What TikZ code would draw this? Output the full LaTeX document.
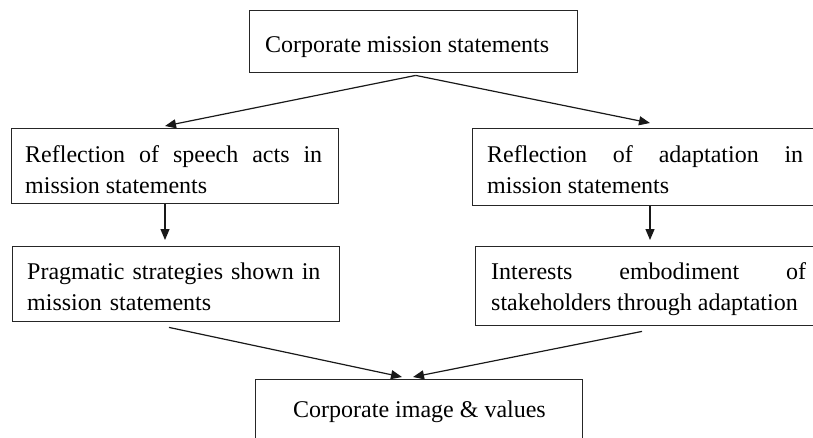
\documentclass[tikz,border=0pt]{standalone}
\usepackage{fontspec}
\setmainfont{Liberation Serif}
\usetikzlibrary{arrows.meta,calc}

\tikzset{
  box/.style={draw=black!85, line width=1.4pt, rectangle, inner sep=0pt, anchor=north west},
  txt/.style={inner sep=0pt, anchor=base west, font=\fontsize{24}{31}\selectfont},
  just/.style={txt, text width=#1, align=justify,
    execute at begin node={\hyphenpenalty=10000\exhyphenpenalty=10000\tolerance=10000}},
  ragged/.style={txt, text width=#1, align=left},
  flow/.style={draw=black!90, line width=1.2pt, -{Triangle[length=11pt,width=9pt]}}
}

\begin{document}
\begin{tikzpicture}[x=1pt,y=-1pt]
  \useasboundingbox (0,0) rectangle (813,437);
  \clip (0,0) rectangle (813,437);

  % boxes (the right-hand ones and the bottom one run past the page edge)
  \node[box, minimum width=328pt, minimum height=62pt] (top) at (249,10) {};
  \node[box, minimum width=327pt, minimum height=75pt] (lb1) at (11,128) {};
  \node[box, minimum width=327pt, minimum height=75pt] (lb2) at (12,246) {};
  \node[box, minimum width=400pt, minimum height=77pt] (rb1) at (472,128) {};
  \node[box, minimum width=400pt, minimum height=79pt] (rb2) at (475,246) {};
  \node[box, minimum width=327pt, minimum height=80pt] (bot) at (255,379) {};

  % texts
  \node[txt] (ttop) at (265,52) {Corporate mission statements};
  \node[just=297pt] (tlb1) at (25,162) {Reflection of speech acts in mission statements};
  \node[ragged=305pt] (tlb2) at (27,279) {Pragmatic strategies shown in mission statements};
  \node[just=316pt] (trb1) at (487,162) {Reflection of adaptation in mission statements};
  \node[just=315pt] (trb2) at (491,279) {Interests embodiment of stakeholders through adaptation};
  \node[txt] (tbot) at (293,417) {Corporate image \& values};

  % connectors
  \coordinate (split) at ($(top.south)+(2,2)$);
  \draw[flow] (split) -- ($(lb1.north west)+(154,-2)$);
  \draw[flow] (split) -- ($(rb1.north west)+(178,-5)$);
  \draw[flow] ($(lb1.south west)+(154,0)$) -- ($(lb2.north west)+(153,-6)$);
  \draw[flow] ($(rb1.south west)+(178,0)$) -- ($(rb2.north west)+(175,-6)$);
  \draw[flow] ($(lb2.south west)+(157,5)$) -- ($(bot.north west)+(147,-2)$);
  \draw[flow] ($(rb2.south west)+(167,5)$) -- ($(bot.north west)+(158,-2)$);
\end{tikzpicture}
\end{document}
